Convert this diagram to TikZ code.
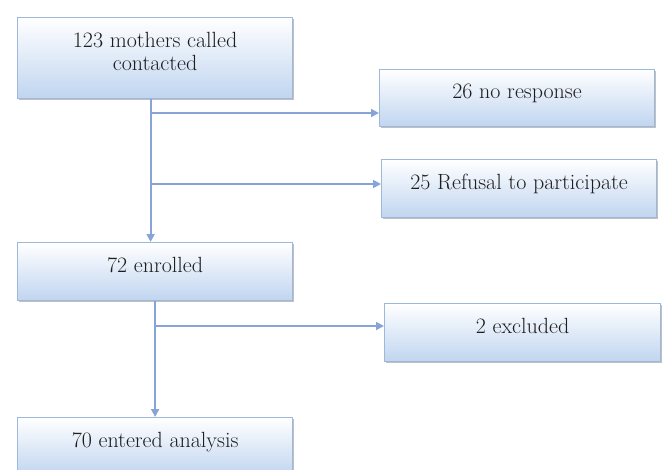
\documentclass[tikz,border=0pt]{standalone}
\usetikzlibrary{arrows.meta,shadows,calc}
\definecolor{boxline}{RGB}{158,184,220}
\definecolor{boxbot}{RGB}{192,213,240}
\definecolor{conn}{RGB}{135,163,215}
\definecolor{txt}{RGB}{30,30,30}
\begin{document}
\begin{tikzpicture}[x=1pt,y=-1pt,
  box/.style={draw=boxline, line width=1.2pt, top color=white, bottom color=boxbot,
    minimum width=#1, text=txt, font=\fontsize{22}{24}\selectfont,
    inner sep=0pt, align=center, anchor=north west,
    drop shadow={shadow xshift=1.2pt, shadow yshift=-1.8pt, fill=black!45, opacity=.55}},
  box/.default=275pt,
  conn/.style={draw=conn, line width=1.8pt},
  arr/.style={conn, -{Triangle[length=8pt,width=8pt]}}]
\useasboundingbox (0,0) rectangle (664,469);
\node[box, minimum height=81pt] (b1) at (17,17) {123 mothers called\\[-1pt]contacted\\[-18pt]\strut};
\node[box, minimum height=57pt, text height=15pt, text depth=14pt] (b26) at (379,69) {26 no response};
\node[box, minimum height=58pt, text height=15pt, text depth=14pt] (b25) at (381,159) {25 Refusal to participate};
\node[box, minimum height=58pt, text height=15pt, text depth=14pt] (b72) at (17,242) {72 enrolled};
\node[box=276pt, minimum height=58pt, text height=15pt, text depth=14pt] (b2) at (384,303) {2 excluded};
\node[box, minimum height=58pt, text height=15pt, text depth=14pt] (b70) at (17,417) {70 entered analysis};
\coordinate (t1) at ([xshift=-4.5pt]b1.south);
\coordinate (j1) at (t1 |- 0,113);
\coordinate (j2) at (t1 |- 0,184);
\coordinate (j3) at (b72.south |- 0,326);
\draw[arr] (t1) -- (t1 |- b72.north);
\draw[arr] (j1) -- (j1 -| b26.west);
\draw[arr] (j2) -- (j2 -| b25.west);
\draw[arr] (b72.south) -- (b70.north);
\draw[arr] (j3) -- (j3 -| b2.west);
\end{tikzpicture}
\end{document}
